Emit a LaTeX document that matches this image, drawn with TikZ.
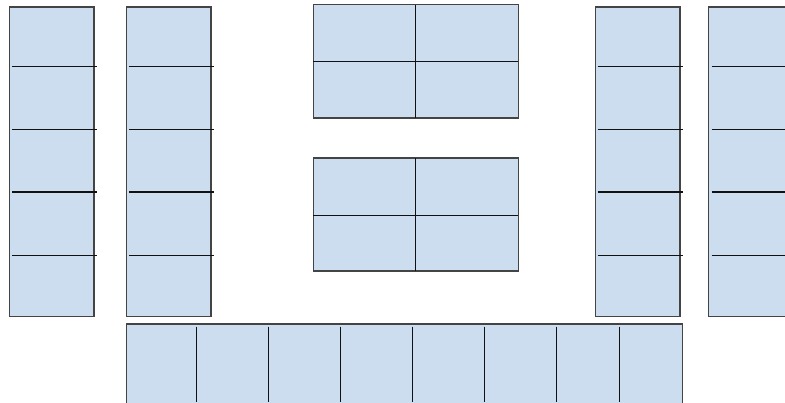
\documentclass[tikz,border=0pt]{standalone}
\definecolor{seat}{HTML}{CCDDF0}
\definecolor{edge}{HTML}{444444}
\definecolor{divider}{HTML}{111111}
\begin{document}
\begin{tikzpicture}[x=1pt,y=-1pt,
  desk/.style={fill=seat,draw=edge,line width=1.4pt},
  split/.style={draw=divider,line width=1.2pt}]
\useasboundingbox (0,0) rectangle (785,402);
% left columns
\foreach \l/\r in {9.5/94, 126.5/211} {
  \draw[desk] (\l,7) rectangle (\r,316.5);
  \foreach \y in {66.3,129.3,192,255.7}
    \draw[split] (\l+2.5,\y) -- (\r+2.7,\y);
}
% right columns
\draw[desk] (595.7,7) rectangle (680,316.5);
\foreach \y in {66.3,129.3,192,255.7}
  \draw[split] (597.7,\y) -- (682.7,\y);
\draw[desk] (708.3,7) rectangle (800,316.5);
\foreach \y in {66.3,129.3,192,255.7}
  \draw[split] (711.7,\y) -- (785,\y);
% centre tables
\foreach \t/\m/\b in {4.7/61.7/118, 158/215.3/271} {
  \draw[desk] (313.3,\t) rectangle (518.3,\b);
  \draw[split] (415.7,\t) -- (415.7,\b);
  \draw[split] (313.3,\m) -- (518.3,\m);
}
% bottom row
\draw[desk] (126.7,324) rectangle (682.7,410);
\foreach \x in {196.3,268.3,340.5,412.5,484.7,556.3,619.5}
  \draw[split] (\x,326.7) -- (\x,402);
\end{tikzpicture}
\end{document}
